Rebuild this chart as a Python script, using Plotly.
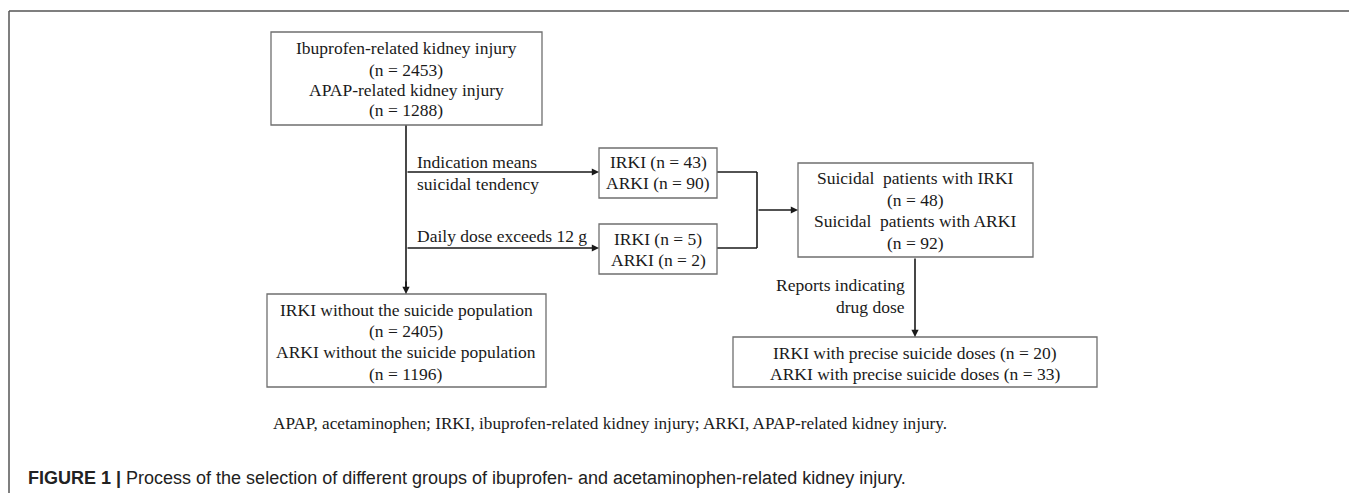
import plotly.graph_objects as go

start_labels = ["Ibuprofen-related kidney injury", "APAP-related kidney injury"]
start_n = [2453, 1288]
criteria = ["Indication means|suicidal tendency", "Daily dose exceeds 12 g"]
indication_n = [43, 90]      # IRKI, ARKI
dose_n = [5, 2]              # IRKI, ARKI
suicidal_labels = ["Suicidal  patients with IRKI", "Suicidal  patients with ARKI"]
suicidal_n = [48, 92]
remaining_labels = ["IRKI without the suicide population", "ARKI without the suicide population"]
remaining_n = [2405, 1196]
precise_labels = ["IRKI with precise suicide doses", "ARKI with precise suicide doses"]
precise_n = [20, 33]
step_label = ["Reports indicating", "drug dose"]
footnote = "APAP, acetaminophen; IRKI, ibuprofen-related kidney injury; ARKI, APAP-related kidney injury."
caption_bold = "FIGURE 1 |"
caption_rest = " Process of the selection of different groups of ibuprofen- and acetaminophen-related kidney injury."

W, H = 1357, 493
OFF = 8  # default page body margin
SERIF = "Liberation Serif, Times New Roman, serif"
SANS = "Liberation Sans, Arial, sans-serif"
FS = 17.5
TXT = "#1a1a1a"
BOX = "#6f6f6f"
LINE = "#1a1a1a"

fig = go.Figure()
shapes = []
ann = []

def box(x0, y0, x1, y1):
    shapes.append(dict(type="rect", xref="x", yref="y", x0=x0, y0=y0, x1=x1, y1=y1,
                       line=dict(color=BOX, width=1.3), fillcolor="white", layer="above"))

def line(x0, y0, x1, y1, color=LINE, width=1.6):
    shapes.append(dict(type="line", xref="x", yref="y", x0=x0, y0=y0, x1=x1, y1=y1,
                       line=dict(color=color, width=width), layer="below"))

def arrow(x0, y0, x1, y1):
    ann.append(dict(x=x1, y=y1, ax=x0, ay=y0, xref="x", yref="y", axref="x", ayref="y",
                    text="", showarrow=True, arrowhead=2, arrowsize=0.9, arrowwidth=1.6,
                    arrowcolor=LINE, standoff=0, startstandoff=0))

def text(x, y, s, anchor="center", size=FS, font=SERIF, color=TXT):
    ann.append(dict(x=x, y=y, xref="x", yref="y", text=s, showarrow=False,
                    xanchor=anchor, yanchor="middle",
                    font=dict(family=font, size=size, color=color)))

# outer frame (open at bottom)
line(9, 11, 1352, 11, color="#555555", width=1.5)
line(9, 11, 9, H + 5, color="#555555", width=1.5)
line(1352, 11, 1352, H + 5, color="#777777", width=2.5)

# top box
box(271, 32, 542, 125)
for yy, s in zip([48, 70, 90, 110],
                 [start_labels[0], f"(n = {start_n[0]})", start_labels[1], f"(n = {start_n[1]})"]):
    text(406, yy, s)

# main vertical flow
line(406, 125, 406, 290)
arrow(406, 280, 406, 294)

# criterion arrows
arrow(406, 172, 599, 172)
arrow(406, 248, 599, 248)
c1 = criteria[0].split("|")
text(415, 162, c1[0], anchor="left")
text(415, 184, c1[1], anchor="left")
text(415, 236, criteria[1], anchor="left")

# small boxes
box(599, 148, 717, 198)
text(658, 162, f"IRKI (n = {indication_n[0]})")
text(658, 183, f"ARKI (n = {indication_n[1]})")
box(599, 224, 717, 274)
text(658, 239, f"IRKI (n = {dose_n[0]})")
text(658, 260, f"ARKI (n = {dose_n[1]})")

# merging connector
line(717, 172, 757, 172)
line(757, 172, 757, 248)
line(717, 248, 757, 248)
arrow(757, 210, 798, 210)

# suicidal box
box(798, 163, 1033, 257)
for yy, s in zip([178, 200, 221, 243],
                 [suicidal_labels[0], f"(n = {suicidal_n[0]})", suicidal_labels[1], f"(n = {suicidal_n[1]})"]):
    text(915, yy, s)

# down arrow to precise box
arrow(915, 257, 915, 337)
text(907, 285, step_label[0], anchor="right")
text(907, 307, step_label[1], anchor="right")

# precise box
box(733, 337, 1097, 387)
text(915, 353, f"{precise_labels[0]} (n = {precise_n[0]})")
text(915, 374, f"{precise_labels[1]} (n = {precise_n[1]})")

# remaining box
box(267, 294, 546, 387)
for yy, s in zip([310, 331, 352, 374],
                 [remaining_labels[0], f"(n = {remaining_n[0]})", remaining_labels[1], f"(n = {remaining_n[1]})"]):
    text(406, yy, s)

# footnote
text(271, 423, footnote, anchor="left", size=17.2)

# caption
ann.append(dict(x=26, y=478, xref="x", yref="y", showarrow=False, xanchor="left", yanchor="middle",
                text=f"<b>{caption_bold}</b>{caption_rest}",
                font=dict(family=SANS, size=18, color="#222222")))

fig.update_layout(
    width=W - OFF, height=H - OFF, margin=dict(l=0, r=0, t=0, b=0),
    paper_bgcolor="white", plot_bgcolor="white",
    xaxis=dict(range=[OFF, W], visible=False, fixedrange=True),
    yaxis=dict(range=[H, OFF], visible=False, fixedrange=True),
    shapes=shapes, annotations=ann, showlegend=False,
)
fig.write_html("out.html")
